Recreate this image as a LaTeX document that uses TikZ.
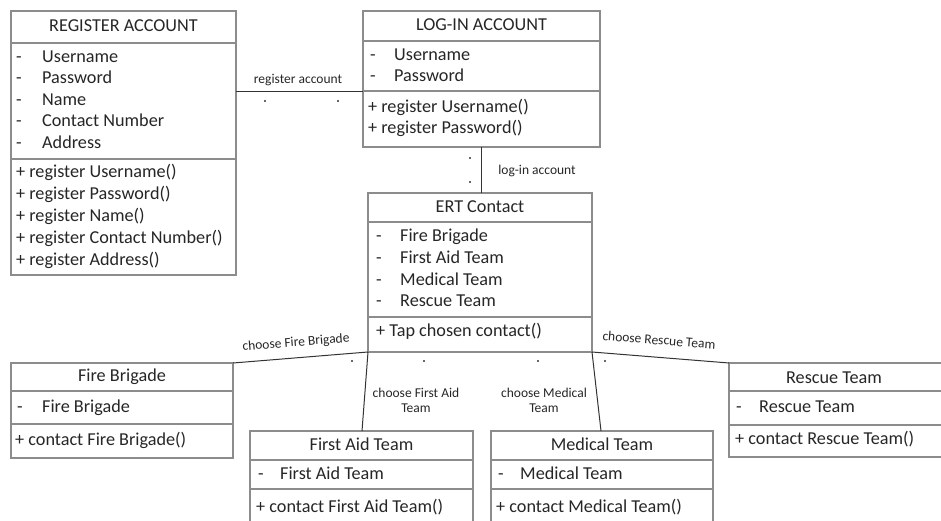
\documentclass[tikz,border=0pt]{standalone}
\usepackage{fontspec}
\setmainfont{Carlito}
\definecolor{boxc}{HTML}{8C8C8C}
\definecolor{txtc}{HTML}{262626}
\definecolor{linec}{HTML}{333333}
\begin{document}
\begin{tikzpicture}[x=1pt,y=-1pt,
  box/.style={draw=boxc, line width=1.3pt, anchor=north west, inner sep=0pt, outer sep=0pt},
  sep/.style={draw=boxc, line width=1.3pt},
  txt/.style={font=\fontsize{18.2}{20}\selectfont, text=txtc, anchor=west, inner sep=0pt, text height=12.8pt, text depth=4.4pt},
  ttl/.style={txt, anchor=center},
  lbl/.style={font=\fontsize{13.5}{15}\selectfont, text=txtc, inner sep=0pt, align=center},
  conn/.style={draw=linec, line width=1pt},
  mult/.style={circle, fill=linec, inner sep=0pt, minimum size=2.2pt}
]
\useasboundingbox (0,0) rectangle (941,521);
\clip (0,0) rectangle (941,521);

% ---------- REGISTER ACCOUNT ----------
\node[box, minimum width=225pt, minimum height=264pt] (reg) at (11,11) {};
\draw[sep] (11,43) -- (236,43);
\draw[sep] (11,159) -- (236,159);
\node[ttl] (regT) at (123.5,27.5) {REGISTER ACCOUNT};
\node[txt] (regA1d) at (16,58) {-};
\node[txt] (regA1) at (42,58) {Username};
\node[txt] (regA2d) at (16,79.5) {-};
\node[txt] (regA2) at (42,79.5) {Password};
\node[txt] (regA3d) at (16,101) {-};
\node[txt] (regA3) at (42,101) {Name};
\node[txt] (regA4d) at (16,122.5) {-};
\node[txt] (regA4) at (42,122.5) {Contact Number};
\node[txt] (regA5d) at (16,144) {-};
\node[txt] (regA5) at (42,144) {Address};
\node[txt] (regM1) at (16,173) {+ register Username()};
\node[txt] (regM2) at (16,195) {+ register Password()};
\node[txt] (regM3) at (16,217) {+ register Name()};
\node[txt] (regM4) at (16,239) {+ register Contact Number()};
\node[txt] (regM5) at (16,261) {+ register Address()};

% ---------- LOG-IN ACCOUNT ----------
\node[box, minimum width=237pt, minimum height=136pt] (log) at (363,11) {};
\draw[sep] (363,41) -- (600,41);
\draw[sep] (363,91) -- (600,91);
\node[ttl] (logT) at (481.5,26.5) {LOG-IN ACCOUNT};
\node[txt] (logA1d) at (370,56) {-};
\node[txt] (logA1) at (394,56) {Username};
\node[txt] (logA2d) at (370,77) {-};
\node[txt] (logA2) at (394,77) {Password};
\node[txt] (logM1) at (368,108) {+ register Username()};
\node[txt] (logM2) at (368,129) {+ register Password()};

% ---------- ERT Contact ----------
\node[box, minimum width=224pt, minimum height=159pt] (ert) at (368,193) {};
\draw[sep] (368,222) -- (592,222);
\draw[sep] (368,317) -- (592,317);
\node[ttl] (ertT) at (480,208) {ERT Contact};
\node[txt] (ertA1d) at (376,237) {-};
\node[txt] (ertA1) at (400,237) {Fire Brigade};
\node[txt] (ertA2d) at (376,259) {-};
\node[txt] (ertA2) at (400,259) {First Aid Team};
\node[txt] (ertA3d) at (376,281) {-};
\node[txt] (ertA3) at (400,281) {Medical Team};
\node[txt] (ertA4d) at (376,302.5) {-};
\node[txt] (ertA4) at (400,302.5) {Rescue Team};
\node[txt] (ertM1) at (376,332) {+ Tap chosen contact()};

% ---------- Fire Brigade ----------
\node[box, minimum width=222pt, minimum height=95pt] (fire) at (11,363) {};
\draw[sep] (11,391) -- (233,391);
\draw[sep] (11,424) -- (233,424);
\node[ttl] (fireT) at (122,377) {Fire Brigade};
\node[txt] (fireAd) at (17,408) {-};
\node[txt] (fireA) at (42,408) {Fire Brigade};
\node[txt] (fireM) at (15,441) {+ contact Fire Brigade()};

% ---------- First Aid Team ----------
\node[box, minimum width=223pt, minimum height=110pt] (aid) at (250,431) {};
\draw[sep] (250,460) -- (473,460);
\draw[sep] (250,489) -- (473,489);
\node[ttl] (aidT) at (361.5,446) {First Aid Team};
\node[txt] (aidAd) at (258,475) {-};
\node[txt] (aidA) at (280,475) {First Aid Team};
\node[txt] (aidM) at (256,508) {+ contact First Aid Team()};

% ---------- Medical Team ----------
\node[box, minimum width=222pt, minimum height=110pt] (med) at (491,431) {};
\draw[sep] (491,460) -- (713,460);
\draw[sep] (491,489) -- (713,489);
\node[ttl] (medT) at (602,446) {Medical Team};
\node[txt] (medAd) at (498,475) {-};
\node[txt] (medA) at (520,475) {Medical Team};
\node[txt] (medM) at (496,508) {+ contact Medical Team()};

% ---------- Rescue Team ----------
\node[box, minimum width=230pt, minimum height=94pt] (res) at (729,363) {};
\draw[sep] (729,391) -- (959,391);
\draw[sep] (729,425) -- (959,425);
\node[ttl] (resT) at (834,379) {Rescue Team};
\node[txt] (resAd) at (736,408) {-};
\node[txt] (resA) at (759,408) {Rescue Team};
\node[txt] (resM) at (735,440) {+ contact Rescue Team()};

% ---------- connectors ----------
\coordinate (regR) at (236,92);
\coordinate (logL) at (363,92);
\draw[conn] (regR) -- (logL);
\node[lbl] (lblReg) at (298,80) {register account};
\node[mult] (mRegA) at (265,101) {};
\node[mult] (mRegB) at (338,101) {};

\coordinate (logB) at (481,147);
\coordinate (ertTop) at (481,193);
\draw[conn] (logB) -- (ertTop);
\node[lbl] (lblLog) at (537,171) {log-in account};
\node[mult] (mLogA) at (470,158) {};
\node[mult] (mLogB) at (470,182) {};

\draw[conn] (fire.north east) -- (ert.south west);
\node[lbl, rotate=4.6] (lblFire) at (296,343) {choose Fire Brigade};
\node[mult] (mFire) at (352,361) {};

\coordinate (aidTop) at (362,431);
\draw[conn] (ert.south west) -- (aidTop);
\node[lbl] (lblAid) at (416,400) {choose First Aid\\Team};
\node[mult] (mAid) at (424,361) {};

\coordinate (medTop) at (601,431);
\draw[conn] (ert.south east) -- (medTop);
\node[lbl] (lblMed) at (544,400) {choose Medical\\Team};
\node[mult] (mMed) at (538,361) {};

\draw[conn] (ert.south east) -- (res.north west);
\node[lbl, rotate=-4.6] (lblRes) at (659,340) {choose Rescue Team};
\node[mult] (mRes) at (605,361) {};
\end{tikzpicture}
\end{document}
